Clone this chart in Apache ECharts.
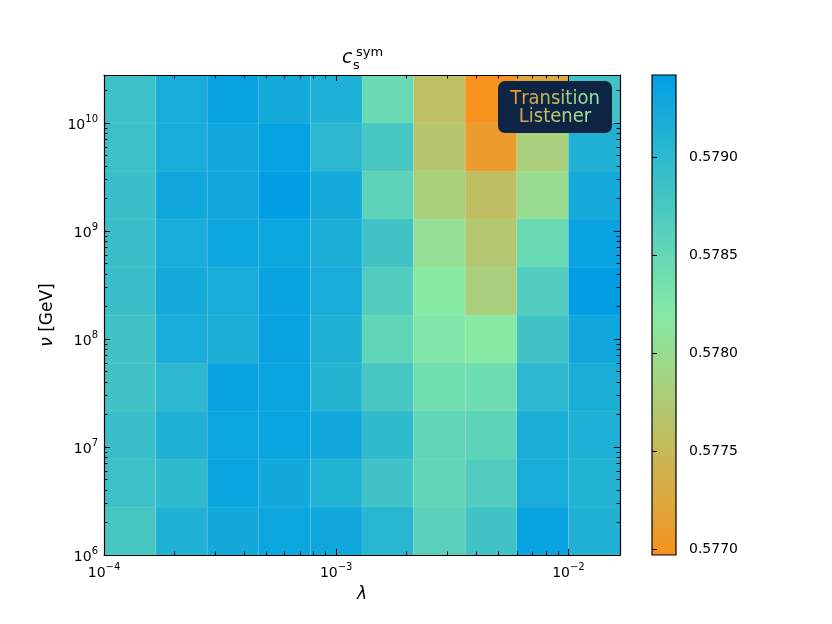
<!DOCTYPE html>
<html>
<head>
<meta charset="utf-8">
<script src="https://cdn.jsdelivr.net/npm/echarts@6/dist/echarts.min.js"></script>
<style>
	html, body { margin: 0; padding: 0; background: #fff; }
	#chart { width: 832px; height: 624px; }
</style>
</head>
<body>
<div id="chart"></div>
<script>
	// cell edges (lambda along x, v along y)
	const lambdaEdges = [1.0e-4, 1.668e-4, 2.783e-4, 4.642e-4, 7.743e-4, 1.292e-3, 2.154e-3, 3.594e-3, 5.995e-3, 1.0e-2, 1.668e-2];
	const vEdges = [1e6, 2.783e6, 7.743e6, 2.154e7, 5.995e7, 1.668e8, 4.642e8, 1.292e9, 3.594e9, 1e10, 2.783e10];

	// c_s^sym, one row per v bin (bottom row first), one column per lambda bin
	const csSym = [
		[0.57876, 0.57913, 0.57925, 0.57931, 0.57927, 0.57905, 0.57861, 0.57883, 0.57935, 0.57913],
		[0.57887, 0.57898, 0.57933, 0.57925, 0.57911, 0.57883, 0.57854, 0.57868, 0.57920, 0.57911],
		[0.57890, 0.57913, 0.57931, 0.57933, 0.57927, 0.57898, 0.57854, 0.57857, 0.57918, 0.57914],
		[0.57883, 0.57901, 0.57935, 0.57933, 0.57908, 0.57876, 0.57839, 0.57841, 0.57901, 0.57918],
		[0.57883, 0.57920, 0.57918, 0.57935, 0.57913, 0.57854, 0.57824, 0.57818, 0.57883, 0.57927],
		[0.57890, 0.57924, 0.57920, 0.57935, 0.57920, 0.57868, 0.57819, 0.57782, 0.57868, 0.57942],
		[0.57890, 0.57920, 0.57931, 0.57931, 0.57916, 0.57883, 0.57804, 0.57771, 0.57846, 0.57935],
		[0.57890, 0.57927, 0.57927, 0.57942, 0.57924, 0.57857, 0.57781, 0.57758, 0.57800, 0.57924],
		[0.57887, 0.57920, 0.57927, 0.57937, 0.57903, 0.57876, 0.57768, 0.57710, 0.57782, 0.57913],
		[0.57887, 0.57920, 0.57935, 0.57924, 0.57914, 0.57846, 0.57760, 0.57697, 0.57726, 0.57883]
	];

	// tick labels: mantissa + exponent
	const xTickValues = [1e-4, 1e-3, 1e-2];
	const xTickExps = ['−4', '−3', '−2'];
	const yTickValues = [1e6, 1e7, 1e8, 1e9, 1e10];
	const yTickExps = ['6', '7', '8', '9', '10'];
	const cbTickValues = [0.5770, 0.5775, 0.5780, 0.5785, 0.5790];
	const cbTickLabels = ['0.5770', '0.5775', '0.5780', '0.5785', '0.5790'];

	const cmapColors = ['#f7931e', '#86eaa6', '#009fe3'];
	const vmin = 0.57697, vmax = 0.57942;

	// minor ticks 2..9 in each decade
	function minorTicks(lo, hi, top) {
		let out = [];
		for (let d = lo; d <= hi; d++) {
			for (let m = 2; m <= 9; m++) {
				let v = m * Math.pow(10, d);
				if (v < top) out.push(v);
			}
		}
		return out;
	}
	const xMinor = minorTicks(-4, -2, lambdaEdges[10]);
	const yMinor = minorTicks(6, 10, vEdges[10]);

	function pickExp(vals, exps, v) {
		for (let i = 0; i < vals.length; i++) {
			if (Math.abs(Math.log10(v) - Math.log10(vals[i])) < 1e-6) return '{b|10}{e|' + exps[i] + '}';
		}
		return '';
	}

	let cells = [];
	for (let j = 0; j < csSym.length; j++) {
		for (let i = 0; i < csSym[j].length; i++) {
			cells.push([lambdaEdges[i], vEdges[j], csSym[j][i], i, j]);
		}
	}

	const font = 'DejaVu Sans';
	const frame = { show: true, lineStyle: { color: '#000', width: 1.2 } };
	const expRich = {
		b: { fontFamily: font, fontSize: 14, color: '#000', lineHeight: 18, verticalAlign: 'bottom' },
		e: { fontFamily: font, fontSize: 10, color: '#000', lineHeight: 10, verticalAlign: 'top' }
	};

	function logAxis(dim, pos, ticks, len, labels) {
		let edges = dim === 'x' ? lambdaEdges : vEdges;
		return {
			type: 'log', logBase: 10, gridIndex: 0, position: pos, z: 10,
			min: edges[0], max: edges[10],
			axisLine: len > 4 ? frame : { show: false },
			axisTick: { show: true, inside: true, length: len, customValues: ticks, lineStyle: { color: '#000', width: 1 } },
			axisLabel: labels ? {
				show: true, customValues: ticks, margin: dim === 'x' ? 7 : 6, color: '#000',
				rich: expRich,
				formatter: v => dim === 'x' ? pickExp(xTickValues, xTickExps, v) : pickExp(yTickValues, yTickExps, v)
			} : { show: false },
			splitLine: { show: false }, minorTick: { show: false }
		};
	}

	let xAxes = [
		logAxis('x', 'bottom', xTickValues, 6, true),
		logAxis('x', 'bottom', xMinor, 3.5, false),
		logAxis('x', 'top', xTickValues, 6, false),
		logAxis('x', 'top', xMinor, 3.5, false),
		{ type: 'value', gridIndex: 1, min: 0, max: 1, show: false }
	];
	xAxes[0].name = 'λ';
	xAxes[0].nameLocation = 'middle';
	xAxes[0].nameGap = 31;
	xAxes[0].nameTextStyle = { fontFamily: font, fontSize: 17, fontStyle: 'italic', color: '#000' };

	let yAxes = [
		logAxis('y', 'left', yTickValues, 6, true),
		logAxis('y', 'left', yMinor, 3.5, false),
		logAxis('y', 'right', yTickValues, 6, false),
		logAxis('y', 'right', yMinor, 3.5, false),
		{
			type: 'value', gridIndex: 1, position: 'right', min: vmin, max: vmax, z: 10,
			axisLine: { show: false },
			axisTick: { show: true, inside: false, length: 5, customValues: cbTickValues, lineStyle: { color: '#000' } },
			axisLabel: {
				show: true, customValues: cbTickValues, margin: 13, color: '#000', fontFamily: font, fontSize: 14,
				formatter: v => cbTickLabels[cbTickValues.findIndex(t => Math.abs(t - v) < 1e-7)] || ''
			},
			splitLine: { show: false }
		}
	];
	yAxes[0].name = '{i|ν} [GeV]';
	yAxes[0].nameLocation = 'middle';
	yAxes[0].nameGap = 46;
	yAxes[0].nameTextStyle = {
		fontFamily: font, fontSize: 17, color: '#000',
		rich: { i: { fontFamily: font, fontSize: 17, fontStyle: 'italic', color: '#000' } }
	};

	// logo letters, coloured orange -> green along each word
	function logoRich(word, c0, c1) {
		let rich = {}, text = '';
		let a = echarts.color.parse(c0), b = echarts.color.parse(c1);
		for (let k = 0; k < word.length; k++) {
			let t = word.length > 1 ? k / (word.length - 1) : 0;
			let c = 'rgb(' + [0, 1, 2].map(n => Math.round(a[n] + (b[n] - a[n]) * t)).join(',') + ')';
			rich['c' + k] = { fill: c, color: c, font: '20px "Liberation Sans Narrow", "DejaVu Sans Condensed", sans-serif' };
			text += '{c' + k + '|' + word[k] + '}';
		}
		return { text: text, rich: rich };
	}
	const logo1 = logoRich('Transition', '#e99a34', '#90e4a4');
	const logo2 = logoRich('Listener', '#d8a44a', '#a2e29e');

	let myChart = echarts.init(document.getElementById('chart'), null, { renderer: 'canvas' });
	myChart.setOption({
		backgroundColor: '#fff',
		animation: false,
		grid: [
			{ left: 104, top: 75, width: 516, height: 480 },
			{ left: 652, top: 75, width: 24, height: 480 }
		],
		xAxis: xAxes,
		yAxis: yAxes,
		visualMap: {
			type: 'continuous', show: false, seriesIndex: 0, dimension: 2,
			min: vmin, max: vmax,
			inRange: { color: cmapColors }
		},
		series: [
			{
				type: 'custom', xAxisIndex: 0, yAxisIndex: 0, z: 2,
				encode: { x: 0, y: 1 },
				data: cells,
				renderItem: function (params, api) {
					let i = api.value(3), j = api.value(4);
					let p0 = api.coord([lambdaEdges[i], vEdges[j + 1]]);
					let p1 = api.coord([lambdaEdges[i + 1], vEdges[j]]);
					return {
						type: 'rect',
						shape: { x: p0[0], y: p0[1], width: p1[0] - p0[0], height: p1[1] - p0[1] },
						style: { fill: api.visual('color'), stroke: 'rgba(255,255,255,0.12)', lineWidth: 0.6 }
					};
				}
			},
			{
				// colorbar
				type: 'custom', xAxisIndex: 4, yAxisIndex: 4, z: 2,
				data: [[0, vmin, vmax]],
				renderItem: function (params, api) {
					let top = api.coord([0, api.value(2)]);
					let bot = api.coord([1, api.value(1)]);
					return {
						type: 'rect',
						shape: { x: top[0], y: top[1], width: bot[0] - top[0], height: bot[1] - top[1] },
						style: {
							fill: new echarts.graphic.LinearGradient(0, 0, 0, 1, [
								{ offset: 0, color: cmapColors[2] },
								{ offset: 0.5, color: cmapColors[1] },
								{ offset: 1, color: cmapColors[0] }
							]),
							stroke: '#000', lineWidth: 1.2
						}
					};
				}
			}
		],
		graphic: [
			// title c_s^sym
			{ type: 'text', left: 342, top: 49, style: { text: 'c', font: 'italic 19px "DejaVu Sans"', fill: '#000' } },
			{ type: 'text', left: 353, top: 59, style: { text: 's', font: '13px "DejaVu Sans"', fill: '#000' } },
			{ type: 'text', left: 356, top: 46, style: { text: 'sym', font: '13px "DejaVu Sans"', fill: '#000' } },
			// logo
			{ type: 'rect', z: 100, shape: { x: 498, y: 81, width: 114, height: 52, r: 7 }, style: { fill: '#0d2444' } },
			{ type: 'text', z: 101, x: 555, y: 99, style: { text: logo1.text, rich: logo1.rich, align: 'center', verticalAlign: 'middle' } },
			{ type: 'text', z: 101, x: 555, y: 117, style: { text: logo2.text, rich: logo2.rich, align: 'center', verticalAlign: 'middle' } }
		]
	});
</script>
</body>
</html>
